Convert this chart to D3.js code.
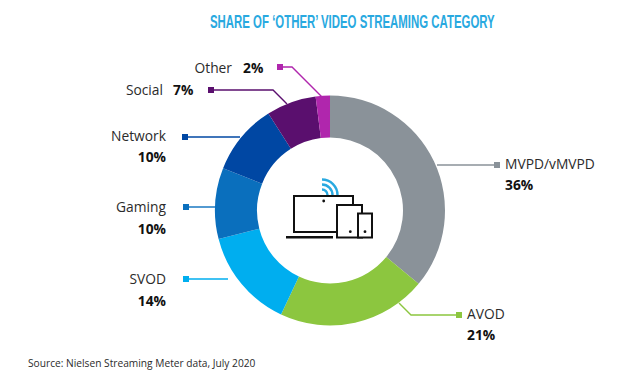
<!DOCTYPE html>
<html>
<head>
<meta charset="utf-8">
<script src="https://cdn.jsdelivr.net/npm/d3@7"></script>
<style>
  html, body { margin: 0; padding: 0; background: #fff; }
  svg { display: block; }
  text { font-family: "Open Sans", sans-serif; fill: #2b2b2b; }
  .pct { font-weight: 700; fill: #111; }
</style>
</head>
<body>
<div id="chart"></div>
<script>
// data
const categories = ["MVPD/vMVPD", "AVOD", "SVOD", "Gaming", "Network", "Social", "Other"];
const shares = [36, 21, 14, 10, 10, 7, 2];
const colors = ["#8a9299", "#8cc63f", "#00aeef", "#0a6fbd", "#0047a3", "#5a0f6e", "#b026ad"];
const titleText = "SHARE OF ‘OTHER’ VIDEO STREAMING CATEGORY";
const sourceText = "Source: Nielsen Streaming Meter data, July 2020";

const width = 639, height = 376;
const cx = 330, cy = 210.5, outerR = 115, innerR = 73;

// callout layout, same order as categories
// pts = leader line, first one is at the square. inline = name and % on one row
const callouts = [
  { pts: [[497, 165], [437, 165]], anchor: "start", tx: 505, ty: 169, py: 190 },
  { pts: [[459, 315], [411, 315], [399, 303]], anchor: "start", tx: 467, ty: 319, py: 340 },
  { pts: [[186, 279], [228, 279]], anchor: "end", tx: 166, ty: 284, py: 306 },
  { pts: [[186, 207], [217, 207]], anchor: "end", tx: 166, ty: 212, py: 234 },
  { pts: [[185, 137], [240, 137]], anchor: "end", tx: 166, ty: 141, py: 162 },
  { pts: [[211, 90], [273, 90], [287, 104]], anchor: "end", tx: 163, ty: 95, inline: 173 },
  { pts: [[280, 67], [292, 67], [322, 97]], anchor: "end", tx: 232, ty: 73, inline: 243 }
];

const svg = d3.select("#chart").append("svg")
  .attr("width", width)
  .attr("height", height);

// title font is a condensed display face, squeeze the narrow bold one to the same width
const title = svg.append("text")
  .style("font-family", "'Liberation Sans Narrow', 'Liberation Sans', sans-serif")
  .style("font-weight", 700)
  .style("font-size", "18.5px")
  .style("fill", "#29a9e0")
  .text(titleText);
const titleScale = 285 / title.node().getComputedTextLength();
title.attr("transform", `translate(210,28) scale(${titleScale},1)`);

// donut
const pie = d3.pie().sort(null).value(d => d);
const arc = d3.arc().innerRadius(innerR).outerRadius(outerR);

svg.append("g")
  .attr("transform", `translate(${cx},${cy})`)
  .selectAll("path")
  .data(pie(shares))
  .join("path")
  .attr("d", arc)
  .attr("fill", (d, i) => colors[i]);

// leaders and squares
const line = d3.line();
const callout = svg.selectAll(".callout")
  .data(categories)
  .join("g")
  .attr("class", "callout");

callout.append("path")
  .attr("d", (d, i) => line(callouts[i].pts))
  .attr("fill", "none")
  .attr("stroke", (d, i) => colors[i])
  .attr("stroke-width", 1.4);

callout.append("rect")
  .attr("x", (d, i) => callouts[i].pts[0][0] - 3)
  .attr("y", (d, i) => callouts[i].pts[0][1] - 3)
  .attr("width", 6)
  .attr("height", 6)
  .attr("fill", (d, i) => colors[i]);

callout.append("text")
  .attr("x", (d, i) => callouts[i].tx)
  .attr("y", (d, i) => callouts[i].ty)
  .attr("text-anchor", (d, i) => callouts[i].anchor)
  .style("font-size", "13.8px")
  .text(d => d);

callout.append("text")
  .attr("class", "pct")
  .attr("x", (d, i) => callouts[i].inline || callouts[i].tx)
  .attr("y", (d, i) => callouts[i].inline ? callouts[i].ty : callouts[i].py)
  .attr("text-anchor", (d, i) => callouts[i].inline ? "start" : callouts[i].anchor)
  .style("font-size", "13.8px")
  .text((d, i) => shares[i] + "%");

// device icon in the hole
const icon = svg.append("g").attr("fill", "none").attr("stroke", "#111").attr("stroke-width", 2);
const wifi = d3.arc().startAngle(0).endAngle(Math.PI / 2);
icon.selectAll(".wifi")
  .data([5.5, 10.5, 15.5])
  .join("path")
  .attr("transform", "translate(322,195)")
  .attr("d", r => wifi({ innerRadius: r - 1.2, outerRadius: r + 1.2 }))
  .attr("fill", "#29a9e0")
  .attr("stroke", "none");
icon.append("rect").attr("x", 294).attr("y", 196).attr("width", 59).attr("height", 36);
icon.append("rect").attr("x", 286).attr("y", 236).attr("width", 47).attr("height", 2.5).attr("fill", "#111").attr("stroke", "none");
icon.append("rect").attr("x", 337).attr("y", 205).attr("width", 25).attr("height", 32.5).attr("fill", "#fff");
icon.append("rect").attr("x", 358).attr("y", 213.5).attr("width", 14).attr("height", 24).attr("fill", "#fff");
icon.selectAll(".dot")
  .data([[323.7, 201], [350.3, 231.7], [365, 231.7]])
  .join("circle")
  .attr("cx", d => d[0])
  .attr("cy", d => d[1])
  .attr("r", 1.4)
  .attr("fill", "#111")
  .attr("stroke", "none");

svg.append("text")
  .attr("x", 28)
  .attr("y", 367)
  .style("font-size", "10.2px")
  .text(sourceText);
</script>
</body>
</html>
